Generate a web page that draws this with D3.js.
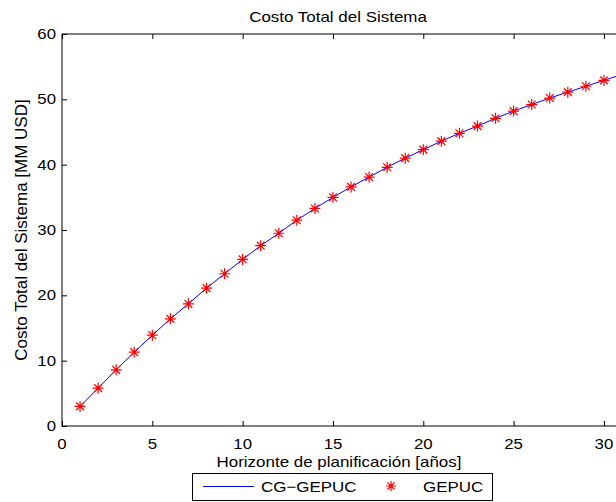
<!DOCTYPE html>
<html>
<head>
<meta charset="utf-8">
<script src="https://cdn.jsdelivr.net/npm/d3@7"></script>
<style>
  html, body { margin: 0; padding: 0; background: #fff; }
  svg { display: block; font-family: "Liberation Sans", Arial, Helvetica, sans-serif; }
</style>
</head>
<body>
<svg id="chart" width="616" height="502"></svg>
<script>
// Planning horizon (years) and total system cost [MM USD]
const years = d3.range(1, 32);
const costCG = [3.0, 5.8, 8.6, 11.3, 13.9, 16.4, 18.7, 21.1, 23.3, 25.5,
                27.6, 29.5, 31.5, 33.3, 35.0, 36.6, 38.1, 39.6, 41.0, 42.3,
                43.6, 44.8, 45.9, 47.1, 48.2, 49.2, 50.2, 51.1, 52.0, 52.9, 53.8];
const costGEPUC = costCG.slice();
const xTicks = [0, 5, 10, 15, 20, 25, 30];
const yTicks = [0, 10, 20, 30, 40, 50, 60];

const svg = d3.select("#chart");
const mLeft = 62, mTop = 34, mBottom = 426, mRight = 622;
const FONT = "'Liberation Sans', Arial, sans-serif";

const x = d3.scaleLinear().domain([0, 31]).range([mLeft, mRight]);
const y = d3.scaleLinear().domain([0, 60]).range([mBottom, mTop]);

// text helper: horizontally widened glyphs
function label(g, tx, ty, str, size, sx, anchor, rot) {
  return g.append("text")
    .attr("transform", `translate(${tx},${ty})` + (rot ? ` rotate(${rot})` : "") + ` scale(${sx},1)`)
    .attr("text-anchor", anchor || "middle")
    .attr("font-family", FONT)
    .attr("font-size", size)
    .attr("fill", "#000")
    .text(str);
}

// frame
svg.append("rect")
  .attr("x", mLeft).attr("y", mTop)
  .attr("width", mRight - mLeft).attr("height", mBottom - mTop)
  .attr("fill", "#fff").attr("stroke", "#000").attr("stroke-width", 1);

// axes with inward ticks; labels drawn separately
const xAxis = d3.axisBottom(x).tickValues(xTicks).tickSizeInner(-5).tickSizeOuter(0).tickFormat("");
const xTop = d3.axisTop(x).tickValues(xTicks).tickSizeInner(-5).tickSizeOuter(0).tickFormat("");
const yAxis = d3.axisLeft(y).tickValues(yTicks).tickSizeInner(-5).tickSizeOuter(0).tickFormat("");

function style(g) {
  g.select(".domain").remove();
  g.selectAll(".tick line").attr("stroke", "#000");
}
svg.append("g").attr("transform", `translate(0,${mBottom})`).call(xAxis).call(style);
svg.append("g").attr("transform", `translate(0,${mTop})`).call(xTop).call(style);
svg.append("g").attr("transform", `translate(${mLeft},0)`).call(yAxis).call(style);

const tickLabels = svg.append("g");
xTicks.forEach(v => label(tickLabels, x(v), mBottom + 23, String(v), 14, 1.2, "middle"));
yTicks.forEach(v => label(tickLabels, mLeft - 6, y(v) + 5, String(v), 14, 1.2, "end"));

// clip to the axes area
svg.append("clipPath").attr("id", "clip")
  .append("rect").attr("x", mLeft).attr("y", mTop).attr("width", mRight - mLeft).attr("height", mBottom - mTop);

const data = years.map((yr, i) => ({ yr, a: costCG[i], b: costGEPUC[i] }));

svg.append("path")
  .datum(data)
  .attr("clip-path", "url(#clip)")
  .attr("fill", "none")
  .attr("stroke", "#0000ff")
  .attr("stroke-width", 1)
  .attr("d", d3.line().x(d => x(d.yr)).y(d => y(d.a)));

// asterisk marker
function star(g, cx, cy, r) {
  const d = r * Math.SQRT1_2;
  const p = `M${cx - r},${cy}L${cx + r},${cy}M${cx},${cy - r}L${cx},${cy + r}` +
            `M${cx - d},${cy - d}L${cx + d},${cy + d}M${cx - d},${cy + d}L${cx + d},${cy - d}`;
  g.append("path").attr("d", p).attr("stroke", "#ff0000").attr("stroke-width", 1.2).attr("fill", "none");
}
const markers = svg.append("g").attr("clip-path", "url(#clip)");
data.forEach(d => star(markers, x(d.yr), y(d.b), 5.5));

// title and axis labels
label(svg, 338, 22, "Costo Total del Sistema", 15, 1.13);
label(svg, 339, 467, "Horizonte de planificación [años]", 15, 1.13);
label(svg, 27, 230, "Costo Total del Sistema [MM USD]", 17, 1, "middle", -90);

// legend
const lg = svg.append("g");
lg.append("rect").attr("x", 192.5).attr("y", 473.5).attr("width", 300).attr("height", 27)
  .attr("fill", "#fff").attr("stroke", "#000").attr("stroke-width", 1);
lg.append("line").attr("x1", 203).attr("x2", 254).attr("y1", 486.5).attr("y2", 486.5)
  .attr("stroke", "#0000ff").attr("stroke-width", 1);
label(lg, 261, 492, "CG\u2212GEPUC", 15, 1.13, "start");
star(lg, 391, 486, 5);
label(lg, 423, 492, "GEPUC", 15, 1.13, "start");
</script>
</body>
</html>
